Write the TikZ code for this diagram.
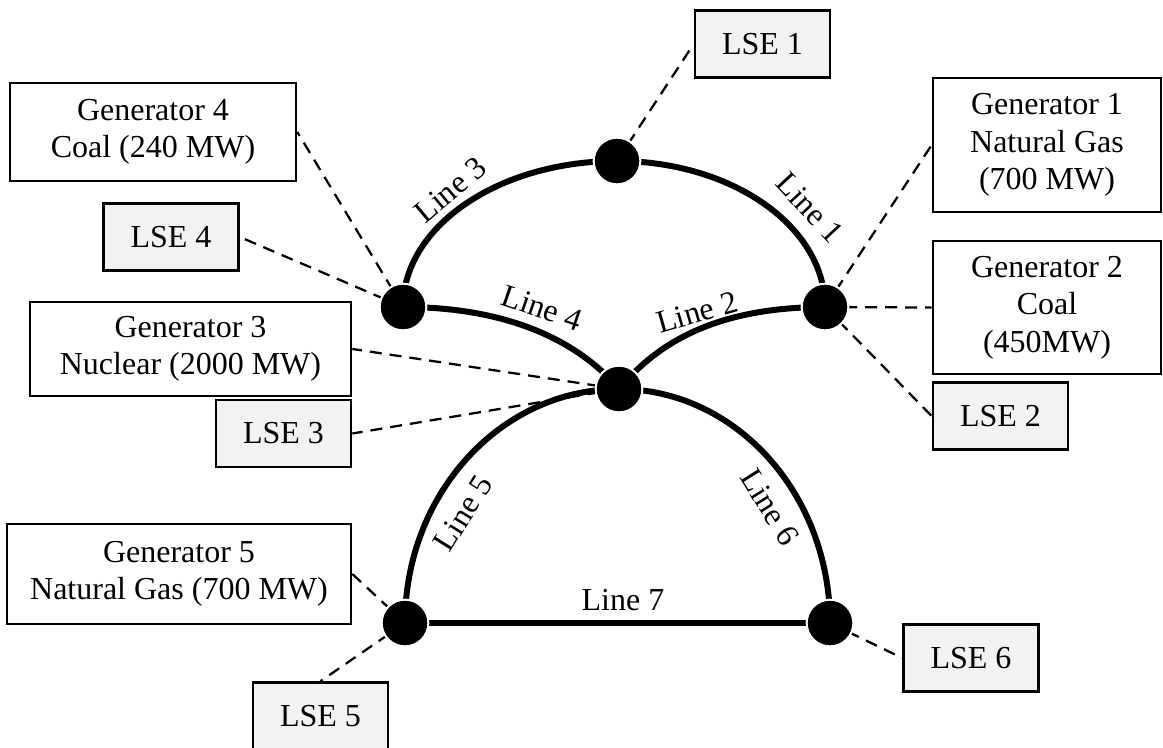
\documentclass[tikz,border=0pt]{standalone}
\usepackage{fontspec}
\setmainfont{Liberation Serif}
\usetikzlibrary{backgrounds}
\definecolor{lsefill}{HTML}{F2F2F2}
\begin{document}
\begin{tikzpicture}[x=0.75pt,y=0.75pt,
  bus/.style={circle, fill=black, draw=white, line width=1.5pt, minimum size=35pt, inner sep=0pt},
  txt/.style={font=\fontsize{24}{28}\selectfont, text=black},
  genbox/.style={txt, draw=black, fill=white, line width=2pt, align=center, inner sep=0pt},
  lsebox/.style={txt, draw=black, fill=lsefill, line width=2pt, align=center, inner sep=0pt,
                 minimum width=101.25pt, minimum height=50.25pt},
  linelbl/.style={txt, inner sep=0pt},
  tline/.style={line width=4.5pt, black},
  link/.style={black, line width=1.7pt, dash pattern=on 9pt off 6pt}]

\useasboundingbox (0,0) rectangle (1163,-747);

% buses
\node[bus] (T)  at (617,-161) {};
\node[bus] (L)  at (403,-307) {};
\node[bus] (R)  at (825,-307) {};
\node[bus] (C)  at (619,-389) {};
\node[bus] (BL) at (405,-623) {};
\node[bus] (BR) at (830,-623) {};

% generators
\node[genbox, minimum width=214.5pt, minimum height=73.5pt]  (G4) at (153,-132)   {Generator 4\\Coal (240 MW)};
\node[genbox, minimum width=240.75pt, minimum height=70.5pt] (G3) at (190.5,-349) {Generator 3\\Nuclear (2000 MW)};
\node[genbox, minimum width=258pt, minimum height=75pt]      (G5) at (179,-574)   {Generator 5\\Natural Gas (700 MW)};
\node[genbox, minimum width=171pt, minimum height=100.5pt]   (G1) at (1047,-145)  {Generator 1\\Natural Gas\\(700 MW)};
\node[genbox, minimum width=171pt, minimum height=99.75pt]   (G2) at (1047,-307.5) {Generator 2\\Coal\\(450MW)};

% load serving entities
\node[lsebox] (S1) at (762.5,-44)   {LSE 1};
\node[lsebox] (S2) at (1000.5,-416) {LSE 2};
\node[lsebox] (S3) at (283.5,-433.5) {LSE 3};
\node[lsebox] (S4) at (171,-237)    {LSE 4};
\node[lsebox] (S5) at (320.5,-716)  {LSE 5};
\node[lsebox] (S6) at (971,-658)    {LSE 6};

% line labels
\node[linelbl, rotate=40]  (n3) at (450,-190) {Line 3};
\node[linelbl, rotate=-47] (n1) at (810,-208) {Line 1};
\node[linelbl, rotate=-19] (n4) at (542,-308) {Line 4};
\node[linelbl, rotate=16]  (n2) at (697,-312) {Line 2};
\node[linelbl, rotate=58]  (n5) at (463,-513) {Line 5};
\node[linelbl, rotate=-58] (n6) at (770,-507) {Line 6};
\node[linelbl]             (n7) at (623,-600) {Line 7};

\begin{scope}[on background layer]
  % attachments of generators and loads to their buses
  \draw[link] (T.center)  -- (S1.west);
  \draw[link] (R.center)  -- (G1.west);
  \draw[link] (R.center)  -- (G2.west);
  \draw[link] (R.center)  -- (S2.west);
  \draw[link] (L.center)  -- (G4.east);
  \draw[link] (L.center)  -- (S4.east);
  \draw[link] (C.center)  -- (G3.east);
  \draw[link] (C.center)  -- (S3.east);
  \draw[link] (BL.center) -- (G5.east);
  \draw[link] (BL.center) -- (S5.north);
  \draw[link] (BR.center) -- (S6.west);

  % transmission lines
  \draw[tline] (L.center) .. controls +(0,80.6) and +(-118.2,0) .. (T.center);
  \draw[tline] (T.center) .. controls +(114.9,0) and +(0,80.6) .. (R.center);
  \draw[tline] (L.center) .. controls +(120,0) and +(-32,38) .. (C.center);
  \draw[tline] (C.center) .. controls +(32,38) and +(-120,0) .. (R.center);
  \draw[tline] (BL.center) .. controls +(0,129.2) and +(-118.2,0) .. (C.center);
  \draw[tline] (C.center) .. controls +(116.5,0) and +(0,129.2) .. (BR.center);
  \draw[tline] (BL.center) -- (BR.center);
\end{scope}
\end{tikzpicture}
\end{document}
